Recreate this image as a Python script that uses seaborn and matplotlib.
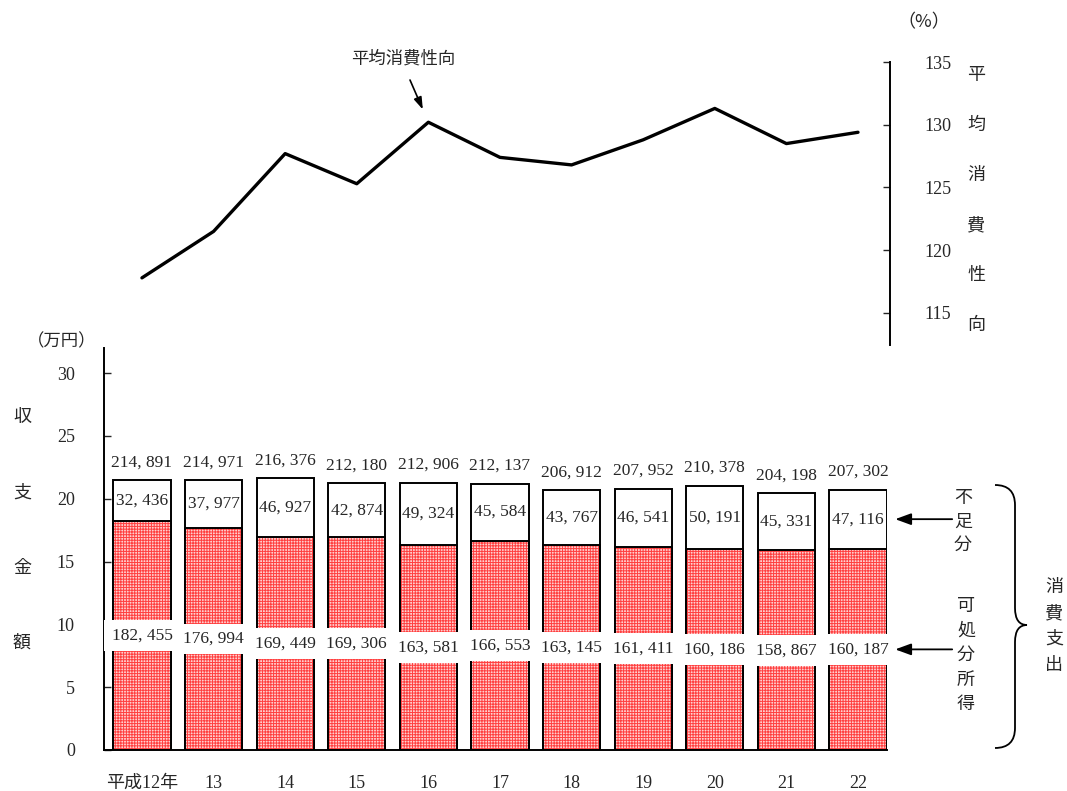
import matplotlib
matplotlib.use("Agg")
import matplotlib.pyplot as plt
import seaborn as sns
import pandas as pd
from matplotlib.path import Path
from matplotlib.patches import PathPatch

# ---- data (yen per month) ----
years = ["平成12年", "13", "14", "15", "16", "17", "18", "19", "20", "21", "22"]
consumption = [214891, 214971, 216376, 212180, 212906, 212137, 206912, 207952, 210378, 204198, 207302]
disposable = [182455, 176994, 169449, 169306, 163581, 166553, 163145, 161411, 160186, 158867, 160187]
shortfall = [32436, 37977, 46927, 42874, 49324, 45584, 43767, 46541, 50191, 45331, 47116]
propensity = [117.8, 121.5, 127.7, 125.3, 130.2, 127.4, 126.8, 128.8, 131.3, 128.5, 129.4]
left_ticks = [0, 5, 10, 15, 20, 25, 30]
right_ticks = [115, 120, 125, 130, 135]

df = pd.DataFrame({
    "year": years,
    "total": [v / 10000 for v in consumption],
    "disp": [v / 10000 for v in disposable],
    "short": [v / 10000 for v in shortfall],
    "apc": propensity,
})

sns.set_style("white")
NUM = ["Liberation Serif", "Noto Sans CJK JP"]
JP = ["Noto Sans CJK JP", "DejaVu Sans"]
plt.rcParams["font.family"] = NUM
plt.rcParams["hatch.linewidth"] = 0.7

W, H = 1067, 791
fig = plt.figure(figsize=(W / 100, H / 100), dpi=100)


def fx(x):
    return x / W


def fy(y):
    return 1 - y / H


ax = fig.add_axes([fx(104), fy(750), fx(887) - fx(104), fy(348) - fy(750)])
ax_top = fig.add_axes([fx(104), fy(345), fx(890) - fx(104), fy(62) - fy(345)])

# ---- stacked bars: consumption total (white), disposable income (hatched) ----
sns.barplot(data=df, x="year", y="total", color="white", saturation=1,
            edgecolor="black", linewidth=1.4, width=0.8, ax=ax)
sns.barplot(data=df, x="year", y="disp", color="#ffd0d0", saturation=1,
            edgecolor="#ff4040", linewidth=0, hatch="++++++", width=0.8, ax=ax)
sns.barplot(data=df, x="year", y="disp", fill=False, edgecolor="black",
            linewidth=1.4, width=0.8, ax=ax)


def fmt(v):
    return f"{v:,}".replace(",", ", ")


for i, row in df.iterrows():
    ax.annotate(fmt(consumption[i]), (i, row["total"]), xytext=(0, 7),
                textcoords="offset points", ha="center", va="bottom", fontsize=12.5)
    ax.text(i, row["disp"] + row["short"] / 2, fmt(shortfall[i]),
            ha="center", va="center", fontsize=12.5)
    ax.text(i, row["disp"] / 2, fmt(disposable[i]), ha="center", va="center",
            fontsize=12.5,
            bbox=dict(boxstyle="square,pad=0.42", fc="white", ec="none"))

ax.set_xlim(-0.53, 10.405)
ax.set_ylim(0, 32)
ax.set_yticks(left_ticks)
ax.set_xlabel("")
ax.set_ylabel("")
for s in ["top", "right"]:
    ax.spines[s].set_visible(False)
for s in ["left", "bottom"]:
    ax.spines[s].set_color("black")
    ax.spines[s].set_linewidth(1.4)
ax.tick_params(axis="y", direction="in", length=5, width=1, pad=21, labelsize=13, left=True)
ax.tick_params(axis="x", length=0, pad=18, labelsize=13)

# ---- average propensity to consume line ----
sns.lineplot(x=list(range(len(years))), y=df["apc"], color="black", linewidth=2.4, ax=ax_top)
ax_top.set_xlim(-0.53, 10.447)
ax_top.set_ylim(112.45, 135)
ax_top.set_yticks(right_ticks)
ax_top.set_xticks([])
ax_top.set_xlabel("")
ax_top.set_ylabel("")
ax_top.yaxis.tick_right()
for s in ["top", "left", "bottom"]:
    ax_top.spines[s].set_visible(False)
ax_top.spines["right"].set_color("black")
ax_top.spines["right"].set_linewidth(1.4)
ax_top.tick_params(axis="y", direction="in", length=5, width=1, pad=25, labelsize=13, right=True)
ax_top.patch.set_alpha(0)

fig.text(fx(403), fy(59), "平均消費性向", ha="center", va="center", fontsize=12.5, family=JP)
ax_top.annotate("", xy=(4, df["apc"][4]), xytext=(fx(410), fy(80)),
                textcoords="figure fraction", annotation_clip=False,
                arrowprops=dict(arrowstyle="-|>,head_length=0.6,head_width=0.2",
                                color="black", lw=1.2, shrinkA=0, shrinkB=10,
                                mutation_scale=12))

# ---- axis captions ----
fig.text(fx(62), fy(341), "（万円）", ha="center", va="center", fontsize=12.5, family=JP)
fig.text(fx(924), fy(22), "（%）", ha="center", va="center", fontsize=13, family=JP)

for k, ch in enumerate("収支金額"):
    fig.text(fx(22), fy(417 + 75.3 * k), ch, ha="center", va="center", fontsize=13, family=JP)
for k, ch in enumerate("平均消費性向"):
    fig.text(fx(976), fy(75 + 50 * k), ch, ha="center", va="center", fontsize=13, family=JP)

# ---- right-side legend notes ----
last = len(years) - 1
for yv in [df["disp"][last] + df["short"][last] / 2, df["disp"][last] / 2]:
    ax.annotate("", xy=(last + 0.52, yv), xytext=(41, 0),
                textcoords="offset points", annotation_clip=False,
                arrowprops=dict(arrowstyle="-|>,head_length=0.6,head_width=0.22",
                                color="black", lw=1.3, mutation_scale=16,
                                shrinkA=0, shrinkB=0))
for k, ch in enumerate("不足分"):
    fig.text(fx(963), fy(498 + 23.5 * k), ch, ha="center", va="center", fontsize=13, family=JP)
for k, ch in enumerate("可処分所得"):
    fig.text(fx(966), fy(606 + 24.5 * k), ch, ha="center", va="center", fontsize=13, family=JP)
for k, ch in enumerate("消費支出"):
    fig.text(fx(1054), fy(587 + 26 * k), ch, ha="center", va="center", fontsize=13, family=JP)

# curly brace spanning consumption expenditure
pts = [(995, 485), (1015, 485), (1015, 505), (1015, 608), (1015, 625), (1027, 625),
       (1015, 625), (1015, 642), (1015, 728), (1015, 748), (995, 748)]
codes = [Path.MOVETO, Path.CURVE3, Path.CURVE3, Path.LINETO, Path.CURVE3, Path.CURVE3,
         Path.CURVE3, Path.CURVE3, Path.LINETO, Path.CURVE3, Path.CURVE3]
brace = Path([(fx(x), fy(y)) for x, y in pts], codes)
fig.patches.append(PathPatch(brace, transform=fig.transFigure, fill=False,
                             edgecolor="black", lw=1.3))

fig.savefig("out.png", dpi=100)
